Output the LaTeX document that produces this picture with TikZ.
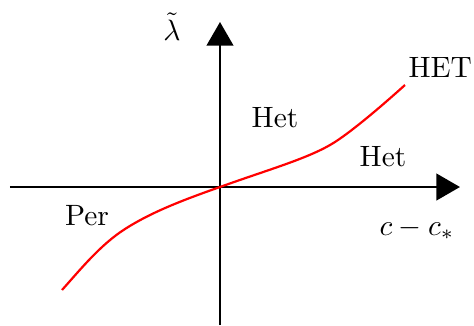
\documentclass[tikz,border=0pt]{standalone}
\usepackage{amssymb}
\usepackage{tikz}
\usetikzlibrary{arrows.meta}

\begin{document}
\begin{tikzpicture}[x=0.34pt, y=-0.34pt,
	axe/.style={line width=0.85pt, -{Triangle[length=8pt,width=9pt]}},
	courbe/.style={red, line width=0.75pt}]
	\useasboundingbox (0,0) rectangle (474,325);
	%les axes
	\coordinate (O) at (220,187);
	\coordinate (xg) at (10,187);
	\coordinate (xd) at (460,187);
	\coordinate (yb) at (220,325);
	\coordinate (yh) at (220,22);
	\draw[axe] (xg) -- (xd);
	\draw[axe] (yb) -- (yh);
	%la courbe
	\coordinate (c1) at (62,290);
	\coordinate (c2) at (125,229);
	\coordinate (c3) at (335,142);
	\coordinate (c4) at (405,85);
	\draw[courbe] (c1) .. controls (80,270) and (100,245) .. (c2)
		.. controls (150,213) and (180,201) .. (O)
		.. controls (270,169) and (310,158) .. (c3)
		.. controls (355,129) and (385,103) .. (c4);
	%les textes
	\node (lam) at (172,27) {$\tilde{\lambda}$};
	\node (het1) at (275,118) {Het};
	\node (het2) at (383,157) {Het};
	\node[anchor=base west, inner sep=0pt] (HET) at (408,77) {HET};
	\node (per) at (87,216) {Per};
	\node (cc) at (417,229) {$c-c_*$};
\end{tikzpicture}
\end{document}
